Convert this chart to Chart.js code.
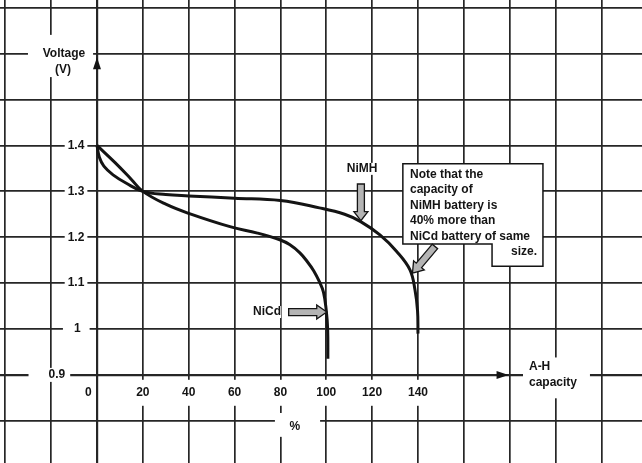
<!DOCTYPE html>
<html>
<head>
<meta charset="utf-8">
<script src="https://cdn.jsdelivr.net/npm/chart.js@4/dist/chart.umd.min.js"></script>
<style>
html,body{margin:0;padding:0;background:#fff;}
canvas{display:block;}
</style>
</head>
<body>
<canvas id="chartBaterai" width="642" height="463"></canvas>
<script>
// ==========================
// DATA
// ==========================

const nimhCap  = [0, 1, 3, 7, 13, 20, 30, 40, 60, 80, 97, 108, 115, 123.4, 130.7, 136.5, 138.7, 139.8, 140];
const nimhVolt = [1.40, 1.375, 1.355, 1.336, 1.317, 1.30, 1.293, 1.290, 1.285, 1.280, 1.264, 1.25, 1.234, 1.205, 1.169, 1.129, 1.085, 1.04, 0.99];

const nicdCap  = [0, 8, 15, 20, 30, 40, 58, 70, 80, 84, 88.5, 92, 94.5, 97, 98.8, 100, 100.6, 100.7];
const nicdVolt = [1.40, 1.362, 1.326, 1.30, 1.272, 1.252, 1.223, 1.209, 1.194, 1.184, 1.166, 1.145, 1.127, 1.103, 1.08, 1.04, 1.0, 0.935];

const capTicks   = [0, 20, 40, 60, 80, 100, 120, 140];
const capLabels  = ["0", "20", "40", "60", "80", "100", "120", "140"];
const voltTicks  = [0.9, 1, 1.1, 1.2, 1.3, 1.4];
const voltLabels = ["0.9", "1", "1.1", "1.2", "1.3", "1.4"];

// full background grid of the graph paper
const gridCap  = [-40, -20, 0, 20, 40, 60, 80, 100, 120, 140, 160, 180, 200, 220];
const gridVolt = [0.8, 0.9, 1.0, 1.1, 1.2, 1.3, 1.4, 1.5, 1.6, 1.7];

const noteLines = ["Note that the", "capacity of", "NiMH battery is", "40% more than", "NiCd battery of same"];


const huruf = "bold 12px 'Liberation Sans', Arial, sans-serif";
const tinta = "#141414";


// ==========================
// HELPERS
// ==========================

function label(chart, text, xv, yv, align, padL, padR, padY) {
    const ctx = chart.ctx;
    const x = chart.scales.x.getPixelForValue(xv);
    const y = chart.scales.y.getPixelForValue(yv);
    ctx.font = huruf;
    const w = ctx.measureText(text).width;
    let left = x;
    if (align === "right") left = x - w;
    if (align === "center") left = x - w / 2;
    ctx.fillStyle = "#fff";
    ctx.fillRect(left - padL, y - 6 - padY, w + padL + padR, 12 + padY * 2);
    ctx.fillStyle = tinta;
    ctx.textAlign = align;
    ctx.textBaseline = "middle";
    ctx.fillText(text, x, y);
}

function whiteBox(chart, x1, y1, x2, y2) {
    const sx = chart.scales.x, sy = chart.scales.y;
    const a = sx.getPixelForValue(x1), b = sy.getPixelForValue(y1);
    const c = sx.getPixelForValue(x2), d = sy.getPixelForValue(y2);
    chart.ctx.fillStyle = "#fff";
    chart.ctx.fillRect(Math.min(a, c), Math.min(b, d), Math.abs(c - a), Math.abs(d - b));
}

function blockArrow(chart, x1v, y1v, x2v, y2v, shaft, head, headLen) {
    const ctx = chart.ctx;
    const x1 = chart.scales.x.getPixelForValue(x1v), y1 = chart.scales.y.getPixelForValue(y1v);
    const x2 = chart.scales.x.getPixelForValue(x2v), y2 = chart.scales.y.getPixelForValue(y2v);
    const len = Math.hypot(x2 - x1, y2 - y1);
    const ux = (x2 - x1) / len, uy = (y2 - y1) / len;
    const nx = -uy, ny = ux;
    const bx = x2 - ux * headLen, by = y2 - uy * headLen;
    const pts = [
        [x1 + nx * shaft / 2, y1 + ny * shaft / 2],
        [bx + nx * shaft / 2, by + ny * shaft / 2],
        [bx + nx * head / 2, by + ny * head / 2],
        [x2, y2],
        [bx - nx * head / 2, by - ny * head / 2],
        [bx - nx * shaft / 2, by - ny * shaft / 2],
        [x1 - nx * shaft / 2, y1 - ny * shaft / 2]
    ];
    ctx.beginPath();
    pts.forEach((p, i) => i ? ctx.lineTo(p[0], p[1]) : ctx.moveTo(p[0], p[1]));
    ctx.closePath();
    ctx.fillStyle = "#b4b4b4";
    ctx.fill();
    ctx.strokeStyle = tinta;
    ctx.lineWidth = 1.3;
    ctx.stroke();
}

function solidHead(chart, xv, yv, dir) {
    const ctx = chart.ctx;
    const x = chart.scales.x.getPixelForValue(xv), y = chart.scales.y.getPixelForValue(yv);
    ctx.beginPath();
    if (dir === "up") {
        ctx.moveTo(x, y); ctx.lineTo(x - 4, y + 12); ctx.lineTo(x + 4, y + 12);
    } else {
        ctx.moveTo(x, y); ctx.lineTo(x - 12, y - 4); ctx.lineTo(x - 12, y + 4);
    }
    ctx.closePath();
    ctx.fillStyle = tinta;
    ctx.fill();
}


// ==========================
// ANNOTATION PLUGIN
// ==========================

const catatan = {
    id: "catatan",
    afterDraw(chart) {
        const ctx = chart.ctx;
        const sx = chart.scales.x, sy = chart.scales.y;
        ctx.save();

        // axis titles
        whiteBox(chart, -30.1, 1.641, -1.7, 1.549);
        label(chart, "Voltage", -14.4, 1.600, "center", 0, 0, 0);
        label(chart, "(V)", -14.8, 1.566, "center", 0, 0, 0);
        solidHead(chart, 0, 1.592, "up");

        whiteBox(chart, 185.8, 0.938, 215, 0.849);
        label(chart, "A-H", 188.4, 0.917, "left", 0, 0, 0);
        label(chart, "capacity", 188.4, 0.883, "left", 0, 0, 0);
        solidHead(chart, 179.5, 0.9, "right");

        whiteBox(chart, 77.6, 0.817, 97.3, 0.765);
        label(chart, "%", 86.3, 0.787, "center", 0, 0, 0);

        // tick labels
        voltTicks.forEach((v, i) => {
            if (v === 0.9) label(chart, voltLabels[i], -17.5, v, "center", 20, 5, 1);
            else if (v === 1) label(chart, voltLabels[i], -8.6, v, "center", 11, 9, 1);
            else label(chart, voltLabels[i], -5.5, v, "right", 3, 3, 1);
        });
        capTicks.forEach((c, i) => {
            if (c === 0) label(chart, capLabels[i], -3.8, 0.861, "center", 3, 3, 7);
            else label(chart, capLabels[i], c, 0.861, "center", 3, 3, 7);
        });

        // curve names with block arrows
        label(chart, "NiMH", 115.6, 1.349, "center", 0, 0, 0);
        blockArrow(chart, 115.1, 1.316, 115.1, 1.236, 7, 14, 9);

        label(chart, "NiCd", 74.2, 1.037, "center", 0, 0, 0);
        blockArrow(chart, 83.6, 1.037, 100.2, 1.037, 7, 14, 10);

        // note box
        const P = (a, b) => [sx.getPixelForValue(a), sy.getPixelForValue(b)];
        const box = [P(133.4, 1.360), P(194.5, 1.360), P(194.5, 1.137), P(172.3, 1.137), P(172.3, 1.185), P(133.4, 1.185)];
        ctx.beginPath();
        box.forEach((p, i) => i ? ctx.lineTo(p[0], p[1]) : ctx.moveTo(p[0], p[1]));
        ctx.closePath();
        ctx.fillStyle = "#fff";
        ctx.fill();
        ctx.strokeStyle = tinta;
        ctx.lineWidth = 1.5;
        ctx.stroke();

        const baris = [1.336, 1.303, 1.269, 1.236, 1.202];
        noteLines.forEach((t, i) => label(chart, t, 136.5, baris[i], "left", 0, 0, 0));
        label(chart, "size.", 191.9, 1.168, "right", 0, 0, 0);

        blockArrow(chart, 147.4, 1.180, 137.6, 1.122, 7, 14, 10);

        ctx.restore();
    }
};


// ==========================
// CHART
// ==========================

const garis = (ctx) => (ctx.tick && (ctx.tick.value === 0 || Math.abs(ctx.tick.value - 0.9) < 1e-6)) ? 2.2 : 1.7;

new Chart(
document.getElementById("chartBaterai"),
{
    type: "line",
    data: {
        datasets: [
            {
                label: "NiMH",
                data: nimhCap.map((c, i) => ({ x: c, y: nimhVolt[i] })),
                borderColor: tinta,
                borderWidth: 3,
                pointRadius: 0,
                tension: 0.4,
                fill: false
            },
            {
                label: "NiCd",
                data: nicdCap.map((c, i) => ({ x: c, y: nicdVolt[i] })),
                borderColor: tinta,
                borderWidth: 3,
                pointRadius: 0,
                tension: 0.4,
                fill: false
            }
        ]
    },
    options: {
        responsive: false,
        animation: false,
        devicePixelRatio: 1,
        layout: { padding: 0 },
        plugins: {
            legend: { display: false },
            tooltip: { enabled: false }
        },
        scales: {
            x: {
                type: "linear",
                min: -42.3,
                max: 237.7,
                ticks: { display: false },
                border: { display: false },
                grid: { drawTicks: false, color: "#262626", lineWidth: garis },
                afterBuildTicks: (s) => { s.ticks = gridCap.map(v => ({ value: v })); }
            },
            y: {
                type: "linear",
                min: 0.708,
                max: 1.717,
                ticks: { display: false },
                border: { display: false },
                grid: { drawTicks: false, color: "#262626", lineWidth: garis },
                afterBuildTicks: (s) => { s.ticks = gridVolt.map(v => ({ value: v })); }
            }
        }
    },
    plugins: [catatan]
});
</script>
</body>
</html>
